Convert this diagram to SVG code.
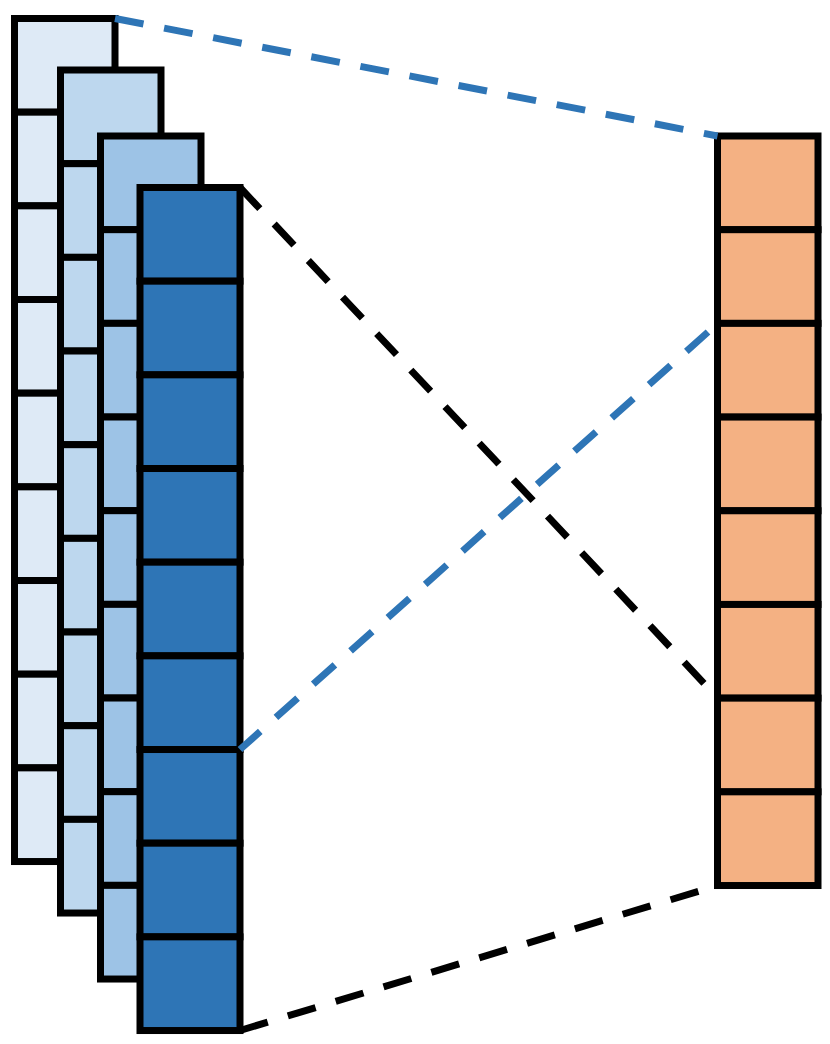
<svg xmlns="http://www.w3.org/2000/svg" width="830" height="1044" viewBox="0 0 830 1044">
<defs>
<style>
.c{stroke:#000;stroke-width:7;stroke-linejoin:miter}
.c1{fill:#DEEAF6}.c2{fill:#BDD7EE}.c3{fill:#9DC3E6}.c4{fill:#2E75B6}.o{fill:#F4B183}
.d{fill:none;stroke-width:7;stroke-dasharray:29 21}
.db{stroke:#2E75B6}.dk{stroke:#000}
</style>
</defs>
<rect width="830" height="1044" fill="#fff"/>
<g id="layer1" class="c c1">
<rect x="14.5" y="18.5" width="100.5" height="93.67"/>
<rect x="14.5" y="112.17" width="100.5" height="93.67"/>
<rect x="14.5" y="205.84" width="100.5" height="93.67"/>
<rect x="14.5" y="299.51" width="100.5" height="93.67"/>
<rect x="14.5" y="393.18" width="100.5" height="93.67"/>
<rect x="14.5" y="486.85" width="100.5" height="93.67"/>
<rect x="14.5" y="580.52" width="100.5" height="93.67"/>
<rect x="14.5" y="674.19" width="100.5" height="93.67"/>
<rect x="14.5" y="767.86" width="100.5" height="93.67"/>
</g>
<g id="layer2" class="c c2">
<rect x="60.5" y="70" width="100.5" height="93.67"/>
<rect x="60.5" y="163.67" width="100.5" height="93.67"/>
<rect x="60.5" y="257.34" width="100.5" height="93.67"/>
<rect x="60.5" y="351.01" width="100.5" height="93.67"/>
<rect x="60.5" y="444.68" width="100.5" height="93.67"/>
<rect x="60.5" y="538.35" width="100.5" height="93.67"/>
<rect x="60.5" y="632.02" width="100.5" height="93.67"/>
<rect x="60.5" y="725.69" width="100.5" height="93.67"/>
<rect x="60.5" y="819.36" width="100.5" height="93.67"/>
</g>
<g id="layer3" class="c c3">
<rect x="100.5" y="136" width="100.5" height="93.67"/>
<rect x="100.5" y="229.67" width="100.5" height="93.67"/>
<rect x="100.5" y="323.34" width="100.5" height="93.67"/>
<rect x="100.5" y="417.01" width="100.5" height="93.67"/>
<rect x="100.5" y="510.68" width="100.5" height="93.67"/>
<rect x="100.5" y="604.35" width="100.5" height="93.67"/>
<rect x="100.5" y="698.02" width="100.5" height="93.67"/>
<rect x="100.5" y="791.69" width="100.5" height="93.67"/>
<rect x="100.5" y="885.36" width="100.5" height="93.67"/>
</g>
<g id="layer4" class="c c4">
<rect x="140" y="187.5" width="100" height="93.67"/>
<rect x="140" y="281.17" width="100" height="93.67"/>
<rect x="140" y="374.84" width="100" height="93.67"/>
<rect x="140" y="468.51" width="100" height="93.67"/>
<rect x="140" y="562.18" width="100" height="93.67"/>
<rect x="140" y="655.85" width="100" height="93.67"/>
<rect x="140" y="749.52" width="100" height="93.67"/>
<rect x="140" y="843.19" width="100" height="93.67"/>
<rect x="140" y="936.86" width="100" height="93.67"/>
</g>
<g id="output" class="c o">
<rect x="717.5" y="136" width="100.5" height="93.69"/>
<rect x="717.5" y="229.69" width="100.5" height="93.69"/>
<rect x="717.5" y="323.38" width="100.5" height="93.69"/>
<rect x="717.5" y="417.07" width="100.5" height="93.69"/>
<rect x="717.5" y="510.76" width="100.5" height="93.69"/>
<rect x="717.5" y="604.45" width="100.5" height="93.69"/>
<rect x="717.5" y="698.14" width="100.5" height="93.69"/>
<rect x="717.5" y="791.83" width="100.5" height="93.69"/>
</g>
<g id="connectors">
<line class="d db" x1="115" y1="18.5" x2="717.5" y2="136"/>
<line class="d dk" x1="240" y1="187.5" x2="714" y2="694"/>
<line class="d db" x1="708" y1="332" x2="240" y2="749.5"/>
<line class="d dk" x1="240" y1="1030.5" x2="717.5" y2="885.5"/>
</g>
</svg>
